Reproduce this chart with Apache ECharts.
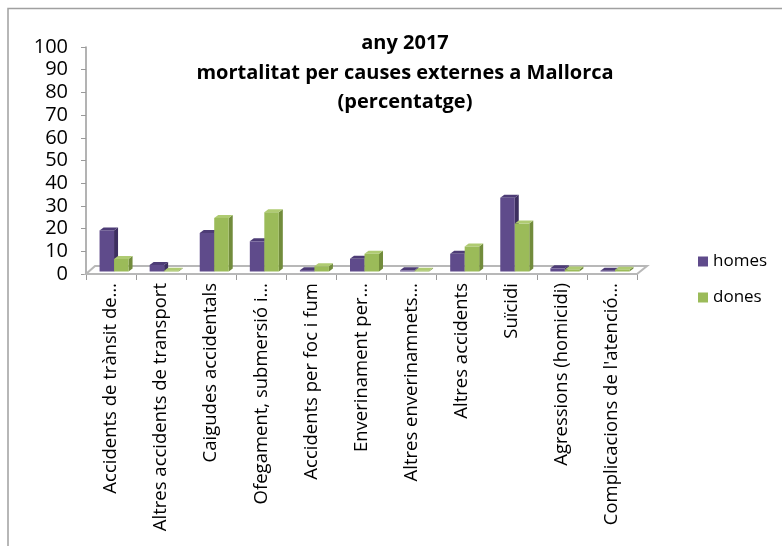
<!DOCTYPE html>
<html>
<head>
<meta charset="utf-8">
<script src="https://cdn.jsdelivr.net/npm/echarts@6/dist/echarts.min.js"></script>
<style>
html,body{margin:0;padding:0;background:#fff;}
#chart{width:782px;height:546px;}
</style>
</head>
<body>
<div id="chart"></div>
<script>
var categories = [
  "Accidents de trànsit de…",
  "Altres accidents de transport",
  "Caigudes accidentals",
  "Ofegament, submersió i…",
  "Accidents per foc i fum",
  "Enverinament per…",
  "Altres enverinamnets…",
  "Altres accidents",
  "Suïcidi",
  "Agressions (homicidi)",
  "Complicacions de l'atenció…"
];
var homes = [18.1, 2.9, 17.0, 13.3, 0.6, 5.6, 0.5, 7.8, 32.5, 1.4, 0.3];
var dones = [5.5, 0.3, 23.6, 26.1, 2.3, 7.8, 0.2, 11.0, 21.1, 0.9, 0.8];
var yTicks = [0, 10, 20, 30, 40, 50, 60, 70, 80, 90, 100];

var FONT = "'Open Sans', 'Noto Sans', sans-serif";
var palette = {
  homes: {front: '#5f4b8b', top: '#4d3c76', side: '#3d2f60'},
  dones: {front: '#9bbb59', top: '#afcb72', side: '#728c3c'}
};
var DX = 4, DY = -3, BW = 14.5, BASE_SHIFT = -2.5;

function barRenderer(idx, pal) {
  return function (params, api) {
    var c = api.value(0), v = api.value(1);
    var p0 = api.coord([c, 0]);
    var p1 = api.coord([c, v]);
    var x0 = p0[0] - 11.5 + idx * BW;
    var x1 = x0 + BW;
    var yb = p0[1] + BASE_SHIFT;
    var yt = p1[1] + BASE_SHIFT;
    if (yb - yt < 0.8) yt = yb - 0.8;
    return {
      type: 'group',
      children: [
        {type: 'polygon', shape: {points: [[x1, yb], [x1 + DX, yb + DY], [x1 + DX, yt + DY], [x1, yt]]},
          style: {fill: pal.side}},
        {type: 'polygon', shape: {points: [[x0, yt], [x1, yt], [x1 + DX, yt + DY], [x0 + DX, yt + DY]]},
          style: {fill: pal.top}},
        {type: 'rect', shape: {x: x0, y: yt, width: BW, height: yb - yt},
          style: {fill: pal.front}}
      ]
    };
  };
}

function floorRenderer(params, api) {
  var cs = params.coordSys;
  var x0 = cs.x, x1 = cs.x + cs.width, y = cs.y + cs.height;
  var d = 9, h = -8;
  return {
    type: 'polygon',
    shape: {points: [[x0, y], [x1, y], [x1 + d + 1, y + h], [x0 + d, y + h]]},
    style: {fill: '#ffffff', stroke: '#b8b8b8', lineWidth: 2},
    z2: 0
  };
}

var chart = echarts.init(document.getElementById('chart'));
chart.setOption({
  animation: false,
  backgroundColor: '#ffffff',
  graphic: [
    {type: 'polyline', shape: {points: [[8, 546], [8, 8.5], [782, 8.5]]},
      style: {stroke: '#a0a0a0', lineWidth: 1.5, fill: null}, silent: true}
  ],
  title: {
    text: 'any 2017\nmortalitat per causes externes a Mallorca\n(percentatge)',
    left: 400, top: 24, textAlign: 'center',
    textStyle: {fontFamily: FONT, fontWeight: 'bold', fontSize: 20, lineHeight: 29.5, color: '#000'}
  },
  legend: {
    orient: 'vertical', left: 693, top: 248,
    itemWidth: 10, itemHeight: 10, itemGap: 19,
    icon: 'rect',
    data: [
      {name: 'homes', itemStyle: {color: palette.homes.front}},
      {name: 'dones', itemStyle: {color: palette.dones.front}}
    ],
    textStyle: {fontFamily: FONT, fontSize: 17, color: '#000', padding: [0, 0, 0, 0]}
  },
  grid: {left: 86, right: 145, top: 47, bottom: 272, containLabel: false},
  xAxis: {
    type: 'category',
    data: categories,
    boundaryGap: true,
    axisLine: {show: true, lineStyle: {color: '#9a9a9a', width: 1.5}},
    axisTick: {show: true, alignWithLabel: false, length: 6, lineStyle: {color: '#9a9a9a'}},
    axisLabel: {rotate: 90, interval: 0, margin: 9, fontFamily: FONT, fontSize: 18.5, color: '#000'}
  },
  yAxis: {
    type: 'value', min: yTicks[0], max: yTicks[yTicks.length - 1], interval: 10,
    splitLine: {show: false},
    axisLine: {show: true, lineStyle: {color: '#9a9a9a', width: 1.5}},
    axisTick: {show: true, length: 5, lineStyle: {color: '#9a9a9a'}},
    axisLabel: {margin: 18, fontFamily: FONT, fontSize: 20, color: '#000'}
  },
  series: [
    {type: 'custom', name: 'floor', renderItem: floorRenderer, data: [[0, 0]], z: 1, silent: true, legendHoverLink: false},
    {type: 'custom', name: 'homes', itemStyle: {color: palette.homes.front}, z: 3,
      renderItem: barRenderer(0, palette.homes),
      data: homes.map(function (v, i) { return [i, v]; }), encode: {x: 0, y: 1}},
    {type: 'custom', name: 'dones', itemStyle: {color: palette.dones.front}, z: 3,
      renderItem: barRenderer(1, palette.dones),
      data: dones.map(function (v, i) { return [i, v]; }), encode: {x: 0, y: 1}}
  ]
});
</script>
</body>
</html>
